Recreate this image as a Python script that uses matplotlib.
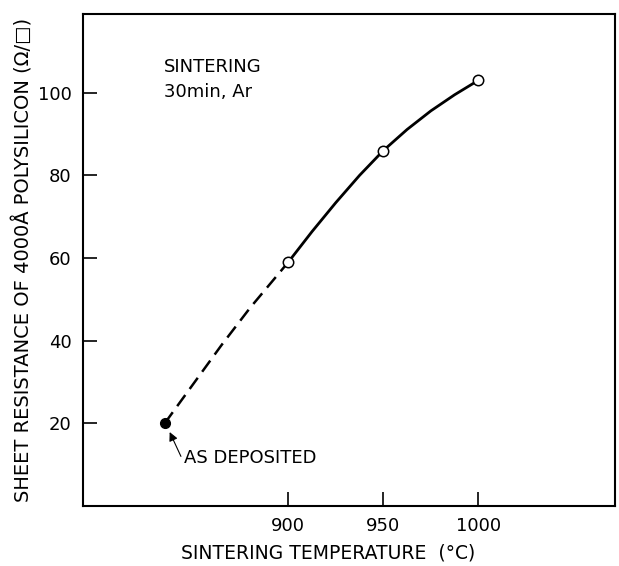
import matplotlib.pyplot as plt

plt.rcParams["font.family"] = ["DejaVu Sans"]

# puntos medidos
temp_sinter = [900, 950, 1000]
res_sinter = [59, 86, 103]

# punto "as deposited" (posicion arbitraria en el eje)
temp_dep = [835]
res_dep = [20]

# trazo de la curva
curva_temp = [900, 912.5, 925, 937.5, 950, 962.5, 975, 987.5, 1000]
curva_res = [59, 66.4, 73.4, 80.0, 86, 91.1, 95.6, 99.5, 103]

# tramo a trazos (as deposited -> 900)
trazo_temp = [835, 850, 865, 880, 900]
trazo_res = [20, 29.5, 39.0, 48.0, 59]

xticks = [900, 950, 1000]
yticks = [20, 40, 60, 80, 100]

fig = plt.figure(figsize=(6.19, 5.66), dpi=100)
ax = fig.add_axes([0.134, 0.106, 0.860, 0.869])

ax.plot(curva_temp, curva_res, color="black", lw=2)
ax.plot(trazo_temp, trazo_res, color="black", lw=1.8,
        linestyle=(0, (5.5, 3)))
ax.plot(temp_sinter, res_sinter, "o", color="black", mfc="white",
        ms=7.5, mew=1.1, zorder=3)
ax.plot(temp_dep, res_dep, "o", color="black", ms=7, zorder=3)

ax.annotate("AS DEPOSITED", xy=(temp_dep[0] + 2, res_dep[0] - 1.5),
            xytext=(845, 11.5), fontsize=13, va="center", ha="left",
            arrowprops=dict(arrowstyle="-|>", color="black", lw=0.8,
                            mutation_scale=13, shrinkA=0, shrinkB=2,
                            relpos=(-0.02, 0.6)))

ax.text(0.152, 0.91, "SINTERING\n30min, Ar", transform=ax.transAxes,
        fontsize=13, va="top", ha="left", linespacing=1.45)

ax.set_xlim(792, 1072)
ax.set_ylim(0, 119)
ax.set_xticks(xticks)
ax.set_yticks(yticks)
ax.tick_params(direction="in", length=10, width=1.2, labelsize=13, pad=8)
for s in ax.spines.values():
    s.set_linewidth(1.5)

ax.set_xlabel("SINTERING TEMPERATURE  (°C)", fontsize=13.5, labelpad=6)
ax.xaxis.label.set_x(0.46)
ax.set_ylabel("SHEET RESISTANCE OF 4000Å POLYSILICON (Ω/□)", fontsize=14,
              labelpad=3)

fig.savefig("out.png", dpi=100)
